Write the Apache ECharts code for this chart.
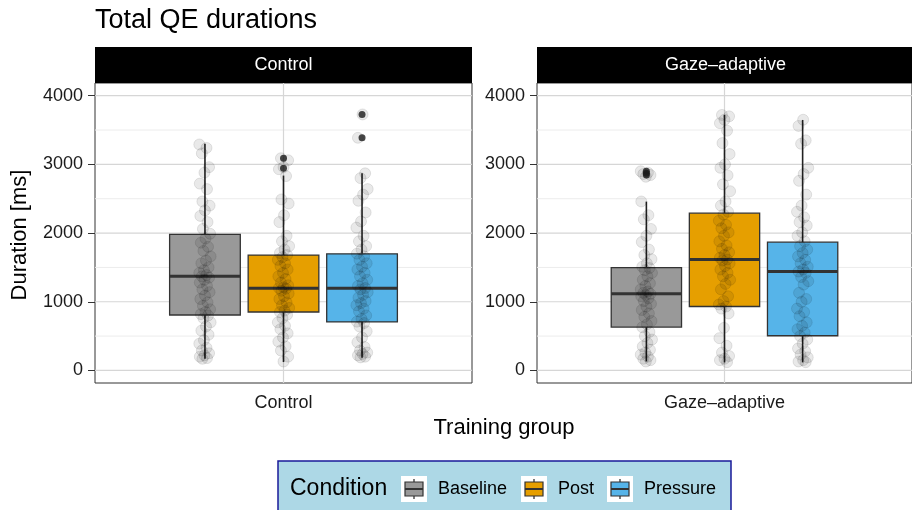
<!DOCTYPE html>
<html>
<head>
<meta charset="utf-8">
<title>Total QE durations</title>
<script src="https://cdn.jsdelivr.net/npm/echarts@6.0.0/dist/echarts.min.js"></script>
<style>
  html, body { margin: 0; padding: 0; background: #fff; }
  #chart { width: 912px; height: 510px; }
</style>
</head>
<body>
<div id="chart"></div>
<script>
// facets, conditions, ticks
var facets = ['Control', 'Gaze\u2013adaptive'];
var conditions = ['Baseline', 'Post', 'Pressure'];
var yTicks = [0, 1000, 2000, 3000, 4000];
var yMinor = [500, 1500, 2500, 3500];

// box stats: [lower whisker, q1, median, q3, upper whisker]
var controlBoxes = [
  [171, 807, 1372, 1981, 3299],
  [122, 851, 1197, 1679, 2837],
  [185, 706, 1197, 1698, 2871]
];
var gazeBoxes = [
  [131, 631, 1116, 1498, 2458],
  [117, 931, 1615, 2289, 3720],
  [117, 505, 1440, 1867, 3647]
];
var controlOutliers = [[], [3090, 2945], [3727, 3387]];
var gazeOutliers = [[2900, 2870, 2845], [], []];

// individual durations (jittered points)
var controlBaseline = [3290, 3240, 3160, 2960, 2880, 2720, 2640, 2460, 2400, 2330, 2250, 2160, 2060, 1990, 1920, 1860, 1800, 1740, 1660, 1600, 1560, 1500, 1460, 1420, 1390, 1370, 1350, 1320, 1280, 1230, 1180, 1140, 1090, 1040, 990, 940, 890, 850, 820, 800, 760, 700, 640, 580, 520, 440, 390, 330, 290, 250, 220, 200, 180, 170];
var controlPost = [3090, 3060, 2960, 2930, 2830, 2490, 2430, 2260, 2160, 1960, 1880, 1810, 1760, 1710, 1680, 1650, 1610, 1560, 1520, 1470, 1420, 1370, 1330, 1280, 1240, 1210, 1200, 1190, 1160, 1120, 1080, 1040, 990, 950, 910, 870, 850, 810, 760, 700, 650, 600, 540, 480, 420, 350, 290, 200, 130];
var controlPressure = [3727, 3387, 2870, 2800, 2640, 2560, 2470, 2300, 2170, 2080, 1960, 1880, 1810, 1760, 1700, 1660, 1610, 1560, 1510, 1470, 1420, 1370, 1320, 1270, 1230, 1200, 1180, 1140, 1100, 1060, 1010, 980, 950, 900, 860, 800, 750, 710, 690, 640, 570, 480, 410, 340, 290, 260, 240, 220, 200, 190];
var gazeBaseline = [2900, 2880, 2860, 2845, 2820, 2460, 2260, 2200, 2060, 1960, 1870, 1760, 1680, 1620, 1560, 1510, 1490, 1460, 1420, 1370, 1320, 1270, 1230, 1180, 1150, 1130, 1115, 1100, 1080, 1050, 1010, 970, 930, 880, 830, 780, 720, 670, 630, 560, 500, 450, 400, 350, 300, 260, 230, 200, 170, 150, 130];
var gazePost = [3720, 3700, 3650, 3600, 3490, 3310, 3150, 3000, 2950, 2840, 2710, 2610, 2460, 2400, 2310, 2270, 2180, 2120, 2070, 2010, 1960, 1880, 1820, 1770, 1720, 1680, 1640, 1615, 1600, 1560, 1520, 1470, 1420, 1370, 1320, 1260, 1180, 1080, 1010, 960, 930, 900, 830, 620, 470, 360, 260, 210, 170, 150, 120];
var gazePressure = [3650, 3560, 3350, 3300, 2950, 2860, 2760, 2560, 2400, 2310, 2230, 2160, 2110, 2010, 1960, 1880, 1810, 1760, 1710, 1660, 1610, 1560, 1510, 1470, 1440, 1420, 1360, 1300, 1250, 1130, 1040, 1000, 900, 850, 790, 700, 650, 600, 550, 500, 450, 390, 320, 280, 230, 190, 150, 130, 120];

var colors = ['#999999', '#E69F00', '#56B4E9'];
var font = 'Liberation Sans, Arial, Helvetica, sans-serif';

var panels = [
  { boxes: controlBoxes, outliers: controlOutliers, points: [controlBaseline, controlPost, controlPressure], left: 95 },
  { boxes: gazeBoxes, outliers: gazeOutliers, points: [gazeBaseline, gazePost, gazePressure], left: 537 }
];

function dodge(ci) { return 0.75 + ci * 0.25; }
// small horizontal jitter so points don't sit on one line
function jitter(k) { return ((k * 37) % 23 / 22 - 0.5) * 0.036; }

function renderBox(params, api) {
  var x = api.value(0);
  var hw = api.size([0.225, 0])[0] / 2;
  var lo = api.coord([x, api.value(1)]);
  var q1 = api.coord([x, api.value(2)])[1];
  var md = api.coord([x, api.value(3)])[1];
  var q3 = api.coord([x, api.value(4)])[1];
  var hi = api.coord([x, api.value(5)])[1];
  var cx = lo[0];
  var col = colors[api.value(6)];
  return {
    type: 'group',
    children: [
      { type: 'line', shape: { x1: cx, y1: lo[1], x2: cx, y2: q1 }, style: { stroke: '#222', lineWidth: 1.6 } },
      { type: 'line', shape: { x1: cx, y1: q3, x2: cx, y2: hi }, style: { stroke: '#222', lineWidth: 1.6 } },
      { type: 'rect', shape: { x: cx - hw, y: q3, width: hw * 2, height: q1 - q3 }, style: { fill: col, stroke: '#333', lineWidth: 1.3 } },
      { type: 'line', shape: { x1: cx - hw, y1: md, x2: cx + hw, y2: md }, style: { stroke: '#333', lineWidth: 3 } }
    ]
  };
}

// panel grid lines: [direction (0 = horizontal, 1 = vertical), value, major?]
function renderGridLine(params, api) {
  var cs = params.coordSys;
  var dir = api.value(0), v = api.value(1), major = api.value(2);
  var style = { stroke: major ? '#d6d6d6' : '#ececec', lineWidth: major ? 1.2 : 1 };
  if (dir === 0) {
    var y = api.coord([1, v])[1];
    return { type: 'line', shape: { x1: cs.x, y1: y, x2: cs.x + cs.width, y2: y }, style: style };
  }
  var x = api.coord([v, 0])[0];
  return { type: 'line', shape: { x1: x, y1: cs.y, x2: x, y2: cs.y + cs.height }, style: style };
}

var grids = [], xAxes = [], yAxes = [], series = [], graphics = [];

var gridLineData = [];
yMinor.forEach(function (v) { gridLineData.push([0, v, 0]); });
yTicks.forEach(function (v) { gridLineData.push([0, v, 1]); });
gridLineData.push([1, 1, 1]);

panels.forEach(function (p, i) {
  grids.push({ left: p.left, top: 83, width: 377, height: 300, show: true, borderColor: '#333', borderWidth: 1, backgroundColor: '#fff' });
  xAxes.push({
    gridIndex: i, type: 'value', min: 0.4, max: 1.6,
    splitLine: { show: false }, axisLine: { show: false },
    axisTick: { show: true, customValues: [1], length: 6, lineStyle: { color: '#333' } },
    axisLabel: { customValues: [1], formatter: function () { return facets[i]; }, fontSize: 18, color: '#1a1a1a', fontFamily: font, margin: 11 }
  });
  yAxes.push({
    gridIndex: i, type: 'value', min: -183, max: 4185,
    splitLine: { show: false }, axisLine: { show: false },
    axisTick: { show: true, customValues: yTicks, length: 7, lineStyle: { color: '#333' } },
    axisLabel: { customValues: yTicks, formatter: function (v) { return String(v); }, fontSize: 18, color: '#1a1a1a', fontFamily: font, margin: 12 }
  });

  series.push({
    type: 'custom', xAxisIndex: i, yAxisIndex: i, z: 1, silent: true,
    renderItem: renderGridLine,
    encode: { x: 1, y: 1 },
    data: gridLineData
  });

  series.push({
    type: 'custom', xAxisIndex: i, yAxisIndex: i, z: 2,
    renderItem: renderBox,
    encode: { x: 0, y: [1, 2, 3, 4, 5] },
    data: p.boxes.map(function (b, ci) { return [dodge(ci)].concat(b).concat([ci]); })
  });

  var pts = [];
  p.points.forEach(function (arr, ci) {
    arr.forEach(function (v, k) { pts.push([dodge(ci) + jitter(k + ci * 7), v]); });
  });
  series.push({
    type: 'scatter', xAxisIndex: i, yAxisIndex: i, z: 3, symbolSize: 11,
    itemStyle: { color: 'rgba(0,0,0,0.11)', borderColor: 'rgba(0,0,0,0.12)', borderWidth: 1 },
    data: pts
  });

  var outs = [];
  p.outliers.forEach(function (arr, ci) { arr.forEach(function (v) { outs.push([dodge(ci), v]); }); });
  series.push({
    type: 'scatter', xAxisIndex: i, yAxisIndex: i, z: 4, symbolSize: 7,
    itemStyle: { color: '#1a1a1a' },
    data: outs
  });

  // facet strip
  graphics.push({ type: 'rect', left: p.left, top: 47, shape: { width: 377, height: 36 }, style: { fill: '#000' } });
  graphics.push({ type: 'text', x: p.left + 188.5, y: 65, style: { text: facets[i], fill: '#fff', fontSize: 18, fontFamily: font, align: 'center', verticalAlign: 'middle' } });
});

// axis titles
graphics.push({ type: 'text', x: 20, y: 235, rotation: Math.PI / 2, style: { text: 'Duration [ms]', fill: '#000', fontSize: 22, fontFamily: font, align: 'center', verticalAlign: 'middle' } });
graphics.push({ type: 'text', x: 504, y: 428, style: { text: 'Training group', fill: '#000', fontSize: 22, fontFamily: font, align: 'center', verticalAlign: 'middle' } });

// legend
graphics.push({ type: 'rect', shape: { x: 278, y: 461, width: 453, height: 60 }, style: { fill: '#ADD8E6', stroke: '#1a1a99', lineWidth: 1.5 } });
graphics.push({ type: 'text', x: 290, y: 489, style: { text: 'Condition', fill: '#000', fontSize: 23, fontFamily: font, verticalAlign: 'middle' } });
var keyX = [401, 521, 607];
var labelX = [438, 558, 644];
conditions.forEach(function (c, ci) {
  var kx = keyX[ci], cx = kx + 13;
  graphics.push({ type: 'rect', shape: { x: kx, y: 476, width: 26, height: 26 }, style: { fill: '#fff' } });
  graphics.push({ type: 'line', shape: { x1: cx, y1: 479, x2: cx, y2: 499 }, style: { stroke: '#333', lineWidth: 1.3 } });
  graphics.push({ type: 'rect', shape: { x: kx + 4, y: 482, width: 18, height: 14 }, style: { fill: colors[ci], stroke: '#333', lineWidth: 1.2 } });
  graphics.push({ type: 'line', shape: { x1: kx + 4, y1: 489, x2: kx + 22, y2: 489 }, style: { stroke: '#333', lineWidth: 2 } });
  graphics.push({ type: 'text', x: labelX[ci], y: 489, style: { text: c, fill: '#000', fontSize: 18, fontFamily: font, verticalAlign: 'middle' } });
});

var myChart = echarts.init(document.getElementById('chart'));
myChart.setOption({
  animation: false,
  backgroundColor: '#fff',
  title: { text: 'Total QE durations', left: 95, top: 7, padding: 0, textStyle: { fontSize: 27, fontWeight: 'normal', color: '#000', fontFamily: font } },
  grid: grids,
  xAxis: xAxes,
  yAxis: yAxes,
  series: series,
  graphic: graphics
});
</script>
</body>
</html>
